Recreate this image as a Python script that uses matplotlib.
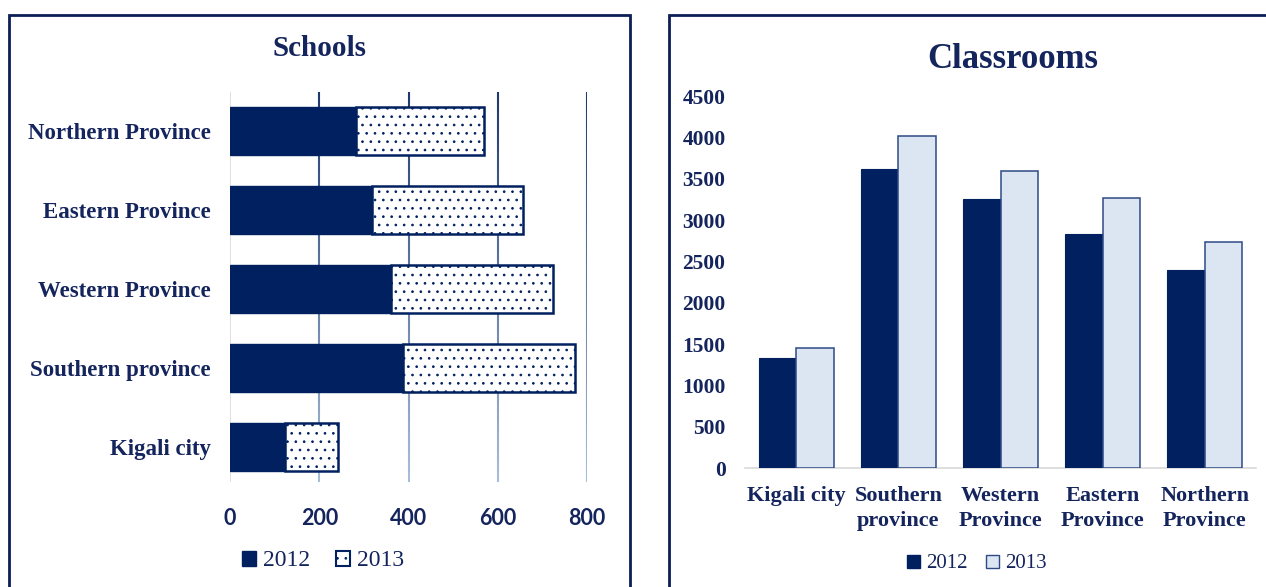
import matplotlib
matplotlib.use('Agg')

import numpy as np
import matplotlib.pyplot as plt
from matplotlib.patches import Patch, Rectangle
from matplotlib.collections import LineCollection
from matplotlib.colors import to_rgb

# data
provinces_h = ['Kigali city', 'Southern province', 'Western Province',
               'Eastern Province', 'Northern Province']
schools_2012 = [123, 388, 361, 318, 282]
schools_2013 = [119, 385, 363, 339, 287]
school_ticks = [0, 200, 400, 600, 800]

provinces_v = ['Kigali city', 'Southern\nprovince', 'Western\nProvince',
               'Eastern\nProvince', 'Northern\nProvince']
classrooms_2012 = [1331, 3617, 3254, 2831, 2395]
classrooms_2013 = [1452, 4016, 3593, 3266, 2734]
classroom_ticks = [0, 500, 1000, 1500, 2000, 2500, 3000, 3500, 4000, 4500]

years = ['2012', '2013']

NAVY = '#002060'
TEXT = '#14245c'
LIGHT = '#dce6f2'
SERIF = 'Liberation Serif'

W, H = 1266, 587
fig = plt.figure(figsize=(W / 100, H / 100), dpi=100)
fig.patch.set_facecolor('white')


def fx(px):
    return px / W


def fy(py):
    return 1 - py / H


# panel borders (bottom edge runs off the picture)
fig.patches.append(Rectangle((fx(9), -0.1), fx(621), fy(15) + 0.1, fill=False,
                             edgecolor='#0b1f55', linewidth=2,
                             transform=fig.transFigure))
fig.patches.append(Rectangle((fx(669), -0.1), 1.0, fy(15) + 0.1, fill=False,
                             edgecolor='#0b1f55', linewidth=2,
                             transform=fig.transFigure))

plt.rcParams['hatch.linewidth'] = 0.7

# ---- left: Schools ----
ax1 = fig.add_axes([fx(230), fy(482), fx(587 - 230), (482 - 92) / H])
y = np.arange(len(provinces_h))
ax1.barh(y, schools_2012, height=0.61, color=NAVY, edgecolor=NAVY, zorder=3)
ax1.barh(y, schools_2013, left=schools_2012, height=0.61, color='white',
         edgecolor=NAVY, hatch='..', linewidth=1.8, zorder=3)
ax1.set_xlim(0, 800)
ax1.set_ylim(-0.45, 4.5)

# gradient gridlines: dark at top, pale at bottom
top_c = np.array(to_rgb('#1f3a70'))
bot_c = np.array(to_rgb('#a8bcd8'))
ys = np.linspace(-0.45, 4.5, 40)
for t in school_ticks[1:]:
    segs = [[(t, ys[i]), (t, ys[i + 1])] for i in range(len(ys) - 1)]
    fr = np.linspace(0, 1, len(segs))[:, None]
    cols = bot_c * (1 - fr) + top_c * fr
    ax1.add_collection(LineCollection(segs, colors=cols, linewidths=1.5, zorder=1))
ax1.axvline(0, color='#d9d9d9', linewidth=1.2, zorder=1)

ax1.set_yticks(y)
ax1.set_yticklabels(provinces_h, family=SERIF, fontweight='bold', fontsize=16.5,
                    color=TEXT)
ax1.set_xticks(school_ticks)
ax1.set_xticklabels([str(v) for v in school_ticks], family='Lato',
                    fontweight='bold', fontsize=15.5, color=TEXT)
ax1.tick_params(length=0)
ax1.tick_params(axis='x', pad=19)
ax1.tick_params(axis='y', pad=14)
for s in ax1.spines.values():
    s.set_visible(False)
fig.text(fx(320), fy(48), 'Schools', family=SERIF, fontweight='bold',
         fontsize=21, color=TEXT, ha='center', va='center')
h1 = [Patch(facecolor=NAVY, edgecolor=NAVY),
      Patch(facecolor='white', edgecolor=NAVY, hatch='..', linewidth=1.5)]
fig.legend(h1, years, loc='center', bbox_to_anchor=(fx(323), fy(561)), ncol=2,
           frameon=False, prop={'family': SERIF, 'size': 17},
           labelcolor=TEXT, handlelength=0.6, handleheight=0.6,
           handletextpad=0.3, columnspacing=1.1)

# ---- right: Classrooms ----
ax2 = fig.add_axes([fx(745), fy(468), fx(1256 - 745), (468 - 96) / H])
x = np.arange(len(provinces_v))
bw = 0.367
ax2.bar(x - bw / 2, classrooms_2012, width=bw, color=NAVY, edgecolor=NAVY,
        linewidth=0.8, zorder=3)
ax2.bar(x + bw / 2, classrooms_2013, width=bw, color=LIGHT, edgecolor='#2e4a85',
        linewidth=1.1, zorder=3)
ax2.set_xlim(-0.5, 4.5)
ax2.set_ylim(0, 4500)
ax2.set_yticks(classroom_ticks)
ax2.set_yticklabels([str(v) for v in classroom_ticks], family=SERIF,
                    fontweight='bold', fontsize=15.5, color=TEXT)
ax2.set_xticks(x)
ax2.set_xticklabels(provinces_v, family=SERIF, fontweight='bold', fontsize=16,
                    color=TEXT, linespacing=1.3)
ax2.tick_params(length=0)
ax2.tick_params(axis='y', pad=14)
ax2.tick_params(axis='x', pad=13)
for k, s in ax2.spines.items():
    s.set_visible(k == 'bottom')
ax2.spines['bottom'].set_color('#d9d9d9')
ax2.spines['bottom'].set_linewidth(1.2)
fig.text(fx(1013), fy(60), 'Classrooms', family=SERIF, fontweight='bold',
         fontsize=25, color=TEXT, ha='center', va='center')
h2 = [Patch(facecolor=NAVY, edgecolor=NAVY),
      Patch(facecolor=LIGHT, edgecolor='#2e4a85')]
fig.legend(h2, years, loc='center', bbox_to_anchor=(fx(977), fy(564)), ncol=2,
           frameon=False, prop={'family': SERIF, 'size': 15},
           labelcolor=TEXT, handlelength=0.6, handleheight=0.6,
           handletextpad=0.3, columnspacing=0.9)

fig.savefig('out.png', dpi=100, facecolor='white')
